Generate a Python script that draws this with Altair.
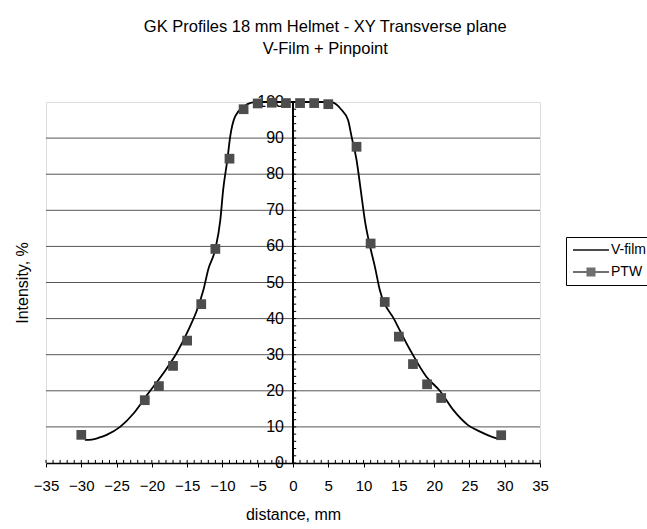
import altair as alt
import pandas as pd

vfilm_x = [-29.5, -28.5, -27.5, -26.4, -24.5, -22.6, -20.7, -18.4, -16.5, -14.6, -13.6, -12.7,
           -12.0, -11.0, -10.3, -9.9, -9.3, -8.9, -8.2, -7.0, -5.9, -5.0, 0.0, 5.0, 5.7, 6.8,
           7.8, 8.3, 9.0, 9.6, 10.2, 10.8, 11.6, 12.3, 14.4, 16.6, 18.9, 20.8, 22.7, 24.8,
           26.5, 28.9, 29.3]
vfilm_y = [6.4, 6.5, 7.0, 7.8, 10.0, 13.7, 18.8, 24.8, 30.4, 37.8, 42.4, 47.9,
           53.7, 59.3, 67.3, 75.6, 84.0, 90.4, 96.0, 98.7, 99.8, 100.0, 100.0, 100.0, 99.8, 98.0,
           95.0, 90.4, 84.0, 75.6, 67.0, 61.0, 54.4, 47.9, 39.6, 31.3, 23.9, 20.0, 14.7, 10.5,
           8.7, 6.8, 6.6]

# PTW pinpoint chamber points
ptw_x = [-30, -21, -19, -17, -15, -13, -11, -9, -7, -5, -3, -1, 1, 3, 5, 9, 11, 13, 15, 17, 19, 21, 29.5]
ptw_y = [7.8, 17.4, 21.3, 26.9, 33.9, 44.0, 59.3, 84.3, 98.0, 99.6, 99.8, 99.7, 99.7, 99.7, 99.4,
         87.6, 60.8, 44.6, 35.0, 27.4, 21.8, 18.0, 7.7]

series_names = ["V-film", "PTW"]
x_ticks = list(range(-35, 36, 5))
x_minor = list(range(-35, 36, 1))
y_labels = list(range(0, 101, 10))
y_grid = list(range(10, 100, 10))
y_minor = list(range(0, 101, 2))

FONT = "Liberation Sans"

vf = pd.DataFrame({"x": vfilm_x, "y": vfilm_y})
pt = pd.DataFrame({"x": ptw_x, "y": ptw_y})
grid_df = pd.DataFrame({"y": y_grid})
ylab_df = pd.DataFrame({"y": y_labels, "x": [0] * len(y_labels), "t": [str(v) for v in y_labels]})
yminor_df = pd.DataFrame({"y": y_minor, "x": [0] * len(y_minor), "x2": [0.45] * len(y_minor)})
xminor_df = pd.DataFrame({"x": x_minor, "y": [0] * len(x_minor), "y2": [0.85] * len(x_minor)})
leg_df = pd.DataFrame({"series": series_names, "x": [200, 200], "y": [50, 50]})

xscale = alt.Scale(domain=[-35, 35], nice=False, zero=False)
yscale = alt.Scale(domain=[0, 100], nice=False)

xaxis = alt.Axis(values=x_ticks, title="distance, mm", grid=False, tickSize=4, tickColor="black",
                 domainColor="black", domainWidth=1.5, labelFontSize=15, labelFont=FONT,
                 labelColor="black", labelPadding=11, titleFont=FONT, titleFontSize=16,
                 titleFontWeight="normal", titleColor="black", titlePadding=13, labelFlush=False)
yaxis = alt.Axis(title="Intensity, %", grid=False, ticks=False, labels=False, domain=False,
                 titleFont=FONT, titleFontSize=16, titleFontWeight="normal", titleColor="black",
                 titlePadding=16)

X = alt.X("x:Q", scale=xscale, axis=xaxis)
Y = alt.Y("y:Q", scale=yscale, axis=yaxis)

grid = alt.Chart(grid_df).mark_rule(color="#555555", strokeWidth=1).encode(
    y=alt.Y("y:Q", scale=yscale, axis=yaxis))

yline = alt.Chart(ylab_df).mark_rule(color="black", strokeWidth=1.2).encode(x=X)

yminor = alt.Chart(yminor_df).mark_rule(color="black", strokeWidth=1).encode(
    x=X, x2="x2:Q", y=Y)

xminor = alt.Chart(xminor_df).mark_rule(color="black", strokeWidth=1).encode(
    x=X, y=Y, y2="y2:Q")

ylabels = alt.Chart(ylab_df).mark_text(align="right", baseline="middle", dx=-9, fontSize=16,
                                       font=FONT, color="black").encode(x=X, y=Y, text="t:N")

line = alt.Chart(vf).mark_line(color="black", strokeWidth=1.8, interpolate="monotone").encode(x=X, y=Y)

pts = alt.Chart(pt).mark_square(size=95, color="#4d4d4d", opacity=1).encode(x=X, y=Y)

line_path = "M-3.6,-0.18L3.6,-0.18L3.6,0.18L-3.6,0.18Z"
ptw_path = "M-3.6,-0.18L3.6,-0.18L3.6,0.18L-3.6,0.18Z M-0.9,-0.9L0.9,-0.9L0.9,0.9L-0.9,0.9Z"

leg = alt.Legend(title=None, orient="none", legendX=520, legendY=135,
                 strokeColor="black", fillColor="white", padding=6,
                 labelFont=FONT, labelFontSize=14, labelColor="black",
                 symbolSize=100, symbolOffset=12, labelOffset=13,
                 rowPadding=8, symbolStrokeWidth=0)

legend_layer = alt.Chart(leg_df).mark_point(filled=True, clip=True).encode(
    x=X, y=Y,
    shape=alt.Shape("series:N", scale=alt.Scale(domain=series_names, range=[line_path, ptw_path]),
                    legend=leg),
    color=alt.Color("series:N", scale=alt.Scale(domain=series_names, range=["black", "#333333"]),
                    legend=leg),
)

chart = alt.layer(grid, yminor, xminor, yline, line, ylabels, pts, legend_layer).properties(
    width=494, height=361,
    padding={"left": 46, "top": 102, "right": 107, "bottom": 66},
    autosize=alt.AutoSizeParams(type="none"),
    title=alt.TitleParams(["GK Profiles 18 mm Helmet - XY Transverse plane", "V-Film + Pinpoint"],
                          font=FONT, fontSize=16.5, fontWeight="normal", color="black",
                          anchor="middle", frame="bounds", lineHeight=22, offset=37, dx=-8),
).configure_view(stroke="black", strokeWidth=1.5).configure(background="white")

chart.save("out.html", embed_options={"renderer": "svg", "actions": False})
